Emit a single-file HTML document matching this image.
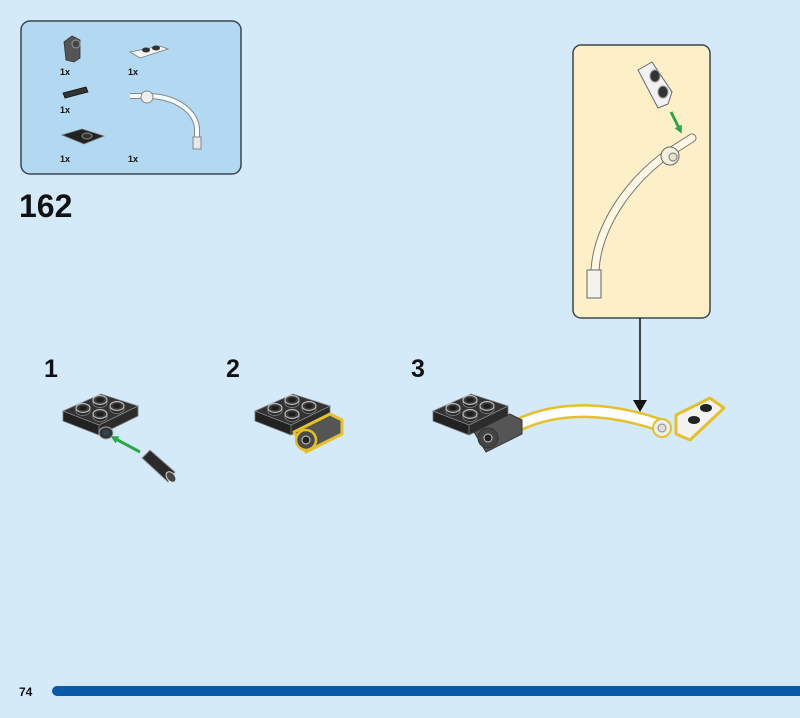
<!DOCTYPE html>
<html><head><meta charset="utf-8"><style>
html,body{margin:0;padding:0;background:#d4eaf9;}
svg{display:block;font-family:"Liberation Sans",sans-serif;}
</style></head><body>
<svg width="800" height="718" viewBox="0 0 800 718" xmlns="http://www.w3.org/2000/svg">
<defs>
<g id="stud">
  <path d="M-7,-3 L-7,0 A7,4.5 0 0 0 7,0 L7,-3" fill="#2a2a2a" stroke="#888" stroke-width="0.8"/>
  <ellipse cx="0" cy="-3" rx="7" ry="4.5" fill="#3a3a3a" stroke="#bbb" stroke-width="1.2"/>
  <ellipse cx="0" cy="-3" rx="3.8" ry="2.3" fill="#1e1e1e"/>
</g>
<g id="plate">
  <polygon points="0,17 36,31 36,41 0,27" fill="#222" stroke="#777" stroke-width="0.8"/>
  <polygon points="36,31 75,12 75,22 36,41" fill="#2c2c2c" stroke="#777" stroke-width="0.8"/>
  <polygon points="0,17 38,0 75,12 36,31" fill="#333" stroke="#888" stroke-width="0.8"/>
  <use href="#stud" x="20" y="17"/>
  <use href="#stud" x="37" y="9"/>
  <use href="#stud" x="37" y="23"/>
  <use href="#stud" x="54" y="15"/>
</g>
<marker id="ga" markerWidth="8" markerHeight="8" refX="4" refY="4" orient="auto" markerUnits="userSpaceOnUse"><path d="M0,0 L8,4 L0,8 Z" fill="#2fa64a"/></marker>
</defs>

<rect x="21" y="21" width="220" height="153" rx="9" fill="#b2d8f2" stroke="#3b4650" stroke-width="1.5"/>
<path d="M64,42 L72,36 L80,40 L80,58 L74,62 L66,60 Z" fill="#555" stroke="#333" stroke-width="0.8"/>
<circle cx="76" cy="44" r="4" fill="#444" stroke="#999"/>
<text x="60" y="75" font-size="9" font-weight="bold" fill="#111">1x</text>
<path d="M130,52 L160,46 L168,49 L140,58 Z" fill="#f4f4f4" stroke="#777" stroke-width="0.8"/>
<ellipse cx="146" cy="50" rx="4" ry="2.5" fill="#333"/><ellipse cx="156" cy="48" rx="4" ry="2.5" fill="#333"/>
<text x="128" y="75" font-size="9" font-weight="bold" fill="#111">1x</text>
<path d="M63,93 L86,87 L88,92 L65,98 Z" fill="#333" stroke="#111" stroke-width="0.8"/>
<text x="60" y="113" font-size="9" font-weight="bold" fill="#111">1x</text>
<path d="M130,96 L150,96 C175,97 195,110 197,128 L197,140" fill="none" stroke="#888" stroke-width="6"/>
<path d="M130,96 L150,96 C175,97 195,110 197,128 L197,140" fill="none" stroke="#f4fbff" stroke-width="4"/>
<circle cx="147" cy="97" r="6" fill="#eee" stroke="#888"/>
<rect x="193" y="137" width="8" height="12" fill="#e8e8e8" stroke="#888"/>
<path d="M62,135 L82,129 L104,136 L84,144 Z" fill="#222" stroke="#777" stroke-width="0.8"/>
<ellipse cx="87" cy="136" rx="5" ry="3" fill="#333" stroke="#888"/>
<text x="60" y="162" font-size="9" font-weight="bold" fill="#111">1x</text>
<text x="128" y="162" font-size="9" font-weight="bold" fill="#111">1x</text>

<text x="19" y="217" font-size="32" font-weight="bold" fill="#111">162</text>

<rect x="573" y="45" width="137" height="273" rx="8" fill="#fdf0c8" stroke="#3b4650" stroke-width="1.5"/>
<line x1="640" y1="318" x2="640" y2="402" stroke="#111" stroke-width="1.5"/>
<path d="M633,400 L647,400 L640,412 Z" fill="#111"/>
<path d="M638,70 L652,62 L672,92 L668,104 L658,108 Z" fill="#f2f2f2" stroke="#666" stroke-width="1"/>
<ellipse cx="655" cy="76" rx="5" ry="6" fill="#333" stroke="#999"/>
<ellipse cx="663" cy="92" rx="5" ry="6" fill="#333" stroke="#999"/>
<line x1="671" y1="112" x2="680" y2="130" stroke="#2fa64a" stroke-width="3" marker-end="url(#ga)"/>
<path d="M692,138 L670,152 C630,180 598,225 595,270" fill="none" stroke="#777" stroke-width="9" stroke-linecap="round"/>
<path d="M692,138 L670,152 C630,180 598,225 595,270" fill="none" stroke="#fdf7e4" stroke-width="7" stroke-linecap="round"/>
<circle cx="670" cy="156" r="9" fill="#f4eedc" stroke="#666"/>
<circle cx="673" cy="157" r="4" fill="#e6e0cc" stroke="#777"/>
<rect x="587" y="270" width="14" height="28" fill="#f4f2ec" stroke="#666"/>

<text x="44" y="377" font-size="25" font-weight="bold" fill="#111">1</text>
<text x="226" y="377" font-size="25" font-weight="bold" fill="#111">2</text>
<text x="411" y="377" font-size="25" font-weight="bold" fill="#111">3</text>

<!-- step 1 -->
<use href="#plate" x="63" y="394"/>
<ellipse cx="106" cy="433" rx="7" ry="6" fill="#333" stroke="#aaa"/>
<ellipse cx="106" cy="433" rx="3.5" ry="3" fill="#345"/>
<line x1="140" y1="452" x2="114" y2="438" stroke="#2fa64a" stroke-width="3" marker-end="url(#ga)"/>
<path d="M142,458 L150,450 L175,472 L168,482 Z" fill="#2a2a2a" stroke="#999"/>
<ellipse cx="171" cy="477" rx="4" ry="6" transform="rotate(-40 171 477)" fill="#444" stroke="#ddd"/>

<!-- step 2 -->
<use href="#plate" x="255" y="394"/>
<path d="M294,432 L330,414 L342,420 L342,434 L306,452 Z" fill="#555" stroke="#e6c02a" stroke-width="3" stroke-linejoin="round"/>
<circle cx="306" cy="440" r="10" fill="#4a4a4a" stroke="#e6c02a" stroke-width="2.5"/>
<circle cx="306" cy="440" r="4" fill="#222" stroke="#ccc"/>

<!-- step 3 -->
<use href="#plate" x="433" y="394"/>
<path d="M518,425 C560,405 610,408 660,425" fill="none" stroke="#e6c02a" stroke-width="14"/>
<path d="M518,425 C560,405 610,408 660,425" fill="none" stroke="#fdfdfd" stroke-width="9"/>
<path d="M474,432 L510,414 L522,420 L522,434 L486,452 Z" fill="#555" stroke="#333" stroke-width="1"/>
<circle cx="488" cy="438" r="10" fill="#444" stroke="#333"/>
<circle cx="488" cy="438" r="4" fill="#222" stroke="#ccc"/>
<path d="M676,415 L710,398 L724,408 L690,440 L676,434 Z" fill="#f2f2f2" stroke="#e6c02a" stroke-width="3" stroke-linejoin="round"/>
<ellipse cx="706" cy="408" rx="6" ry="4" fill="#222"/><ellipse cx="694" cy="420" rx="6" ry="4" fill="#222"/>
<circle cx="662" cy="428" r="9" fill="#eee" stroke="#e6c02a" stroke-width="2"/>
<circle cx="662" cy="428" r="4" fill="#ddd" stroke="#888"/>

<text x="19" y="696" font-size="12" font-weight="bold" fill="#111">74</text>
<rect x="52" y="686" width="760" height="10" rx="5" fill="#0a5aa8"/>
</svg>
</body></html>
